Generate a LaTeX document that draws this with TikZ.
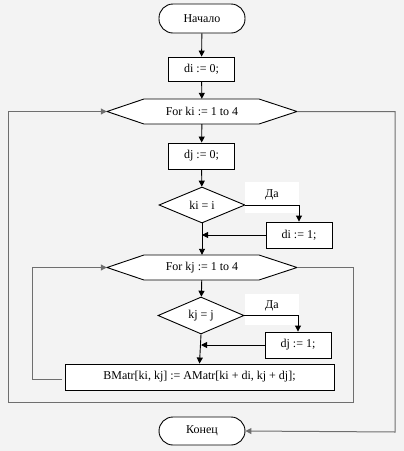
\documentclass[tikz,border=0pt]{standalone}
\usepackage{fontspec}
\setmainfont{Liberation Serif}
\usetikzlibrary{shapes.geometric, arrows.meta}
\definecolor{pageback}{RGB}{243, 243, 243}
\definecolor{loopink}{RGB}{110, 110, 110}

% hexagon of a loop head: name, x, y, text
\newcommand{\loophead}[4]{%
  \filldraw[boxline, fill=white] ({#2-95},#3) -- ({#2-58},{#3-12.5}) -- ({#2+57},{#3-12.5})
    -- ({#2+95},#3) -- ({#2+57},{#3+12.5}) -- ({#2-58},{#3+12.5}) -- cycle;
  \node[minimum width=190pt, minimum height=25pt, inner sep=0pt] (#1) at (#2,#3) {#4};}

\tikzset{
  boxline/.style={draw=black, line width=0.9pt},
  terminal/.style={boxline, fill=white, rectangle, rounded corners=14pt,
    minimum width=86pt, minimum height=29pt, inner sep=0pt},
  opbox/.style={boxline, fill=white, rectangle, minimum width=66pt,
    minimum height=26pt, inner sep=0pt},
  testbox/.style={boxline, fill=white, diamond, minimum width=86pt,
    minimum height=37pt, inner sep=0pt},
  yesmark/.style={fill=white, minimum width=54pt, inner sep=2pt,
    text height=13pt, text depth=14pt},
  flow/.style={line width=0.9pt, -{Triangle[length=6pt, width=6pt]}},
  loopline/.style={draw=loopink, line width=1pt},
}

\begin{document}
\begin{tikzpicture}[x=1pt, y=-1pt, font=\fontsize{12}{14}\selectfont]
  \fill[pageback] (0,0) rectangle (404,451);
  \useasboundingbox (0,0) rectangle (404,451);

  \node[terminal] (start) at (202,18.5) {Начало};
  \node[opbox, minimum height=24pt] (setdi) at (201.5,69) {di := 0;};
  \loophead{forki}{202}{111.5}{For ki := 1 to 4}
  \node[opbox] (setdj) at (201.5,156) {dj := 0;};
  \node[testbox, minimum height=36pt] (ifki) at (202,205) {ki = i};
  \node[yesmark] (yesi) at (272,197.5) {Да};
  \node[opbox] (setdione) at (299,235) {di := 1;};

  \loophead{forkj}{202}{267.5}{For kj := 1 to 4}
  \node[testbox] (ifkj) at (201,315.5) {kj = j};
  \node[yesmark] (yesj) at (272,309) {Да};
  \node[opbox] (setdjone) at (298,345) {dj := 1;};
  \node[opbox, minimum width=269pt] (bmatr) at (199.5,377) {BMatr[ki, kj] := AMatr[ki + di, kj + dj];};

  \node[terminal, minimum height=28pt] (stop) at (202,431) {Конец};

  \coordinate (mergei) at (ifki.south |- setdione.west);
  \coordinate (mergej) at (ifkj.south |- setdjone.west);
  \coordinate (kjback) at (62,379);
  \coordinate (kjleft) at (32,379);
  \coordinate (kjout) at (353,402);
  \coordinate (kiback) at (8,402);
  \coordinate (kiout) at (395,432);

  % main flow
  \draw[flow] (start) -- (setdi);
  \draw[flow] (setdi) -- (forki);
  \draw[flow] (forki) -- (setdj);
  \draw[flow] (setdj) -- (ifki);
  \draw[flow] (ifki.east) -| (setdione.north);
  \draw[flow] (setdione.west) -- (mergei);
  \draw[flow] (ifki.south) -- (forkj.north);
  \draw[flow] (forkj) -- (ifkj);
  \draw[flow] (ifkj.east) -| (setdjone.north);
  \draw[flow] (setdjone.west) -- (mergej);
  \draw[flow] (ifkj.south) -- (bmatr.north);

  % loops
  \draw[loopline, -{Triangle[length=6pt, width=6pt]}] (kjback) -- (kjleft) |- (forkj.west);
  \draw[loopline, -{Triangle[length=6pt, width=6pt]}] (forkj.east) -| (kjout) -- (kiback) |- (forki.west);
  \draw[loopline, -{Triangle[length=6pt, width=6pt]}] (forki.east) -| (kiout) -- (stop.east);
\end{tikzpicture}
\end{document}
